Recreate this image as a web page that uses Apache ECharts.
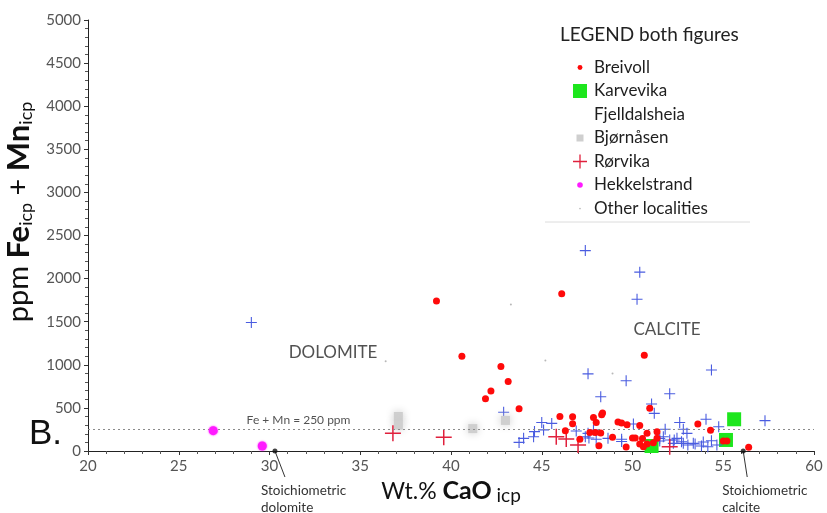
<!DOCTYPE html>
<html><head><meta charset="utf-8">
<script src="https://cdn.jsdelivr.net/npm/echarts@6/dist/echarts.min.js"></script>
<style>html,body{margin:0;padding:0;background:#fff}#c{width:827px;height:513px}</style>
</head><body><div id="c"></div>
<script>
// ---- data (Wt.% CaO, ppm Fe+Mn) ----
const breivoll = [[39.2,1740],[46.1,1825],[40.6,1100],[50.65,1110],[42.75,980],[43.15,805],[42.2,695],[41.9,605],[43.75,490],[50.95,495],[46.0,400],[46.7,398],[46.7,315],[46.3,235],[47.85,390],[48.3,420],[48.35,440],[48.0,330],[49.2,335],[49.4,325],[49.7,305],[50.4,295],[48.9,160],[50.0,150],[50.15,150],[47.65,215],[47.95,215],[48.25,210],[47.1,135],[48.15,60],[49.65,45],[50.55,145],[50.8,205],[51.35,224],[51.35,147],[50.4,80],[50.8,80],[51.15,96],[50.6,50],[53.6,313],[54.3,240],[55.0,116],[55.2,116],[56.4,43]];
const karvevika = [[55.6,368],[55.15,128],[51.05,58]];
const fjelldalsheia = [[29.0,1490],[47.4,2325],[50.4,2075],[50.25,1760],[47.55,895],[49.65,815],[54.35,940],[48.25,630],[52.05,665],[51.05,545],[51.2,437],[42.9,450],[45.0,330],[45.55,320],[44.6,225],[45.1,245],[43.75,100],[44.0,147],[44.55,166],[54.05,368],[57.3,352],[52.6,330],[54.75,282],[47.55,205],[47.85,244],[46.9,232],[48.65,147],[49.4,136],[50.05,313],[51.8,252],[52.8,252],[51.5,147],[52.05,128],[52.45,147],[52.25,89],[52.8,89],[53.35,89],[53.9,104],[54.35,119],[53.0,205],[47.4,166],[47.6,150],[48.0,136],[49.4,110],[51.7,166],[51.5,116],[52.3,128],[52.7,108],[53.05,70],[53.45,81],[53.8,58],[54.15,50],[54.65,70]];
const bjornasen = [[37.1,400],[37.1,300],[41.2,260],[43.0,355]];
const rorvika = [[36.8,205],[39.6,160],[45.8,166],[46.35,139],[47.0,70],[52.05,50]];
const hekkelstrand = [[26.9,236],[29.6,58]];
const otherLocalities = [[43.3,1700],[48.9,900],[36.4,1040],[45.2,1050]];
const thresholdPpm = 250;
const stoichDolomite = 30.3;
const stoichCalcite = 56.1;
const fieldLabels = [
  {name:'Fe + Mn = 250 ppm', value:[31.6,250], pos:'top', size:12},
  {name:'DOLOMITE', value:[33.5,1143], pos:'inside', size:17},
  {name:'CALCITE', value:[51.9,1404], pos:'inside', size:17}
];
const legendNames = ['Breivoll','Karvevika','Fjelldalsheia','Bjørnåsen','Rørvika','Hekkelstrand','Other localities'];

const FONT = 'Lato, "Open Sans", sans-serif';
const CROSS = 'path://M0,10L20,10M10,0L10,20';
const chart = echarts.init(document.getElementById('c'));

const option = {
  animation:false,
  backgroundColor:'#fff',
  textStyle:{fontFamily:FONT},
  title:{text:'LEGEND both figures', left:555, top:20, textStyle:{fontFamily:FONT,fontSize:19,fontWeight:'normal',color:'#222'}},
  legend:{
    orient:'vertical', left:566, top:54, itemWidth:18, itemHeight:14, itemGap:6.5,
    selectedMode:false,
    textStyle:{fontFamily:FONT,fontSize:17,color:'#1e1e1e',lineHeight:14},
    data:[
      {name:'Breivoll', icon:'path://M0,0M20,20M6.5,10a3.5,3.5 0 1,0 7,0a3.5,3.5 0 1,0 -7,0'},
      {name:'Karvevika', icon:'path://M0,0L20,0L20,20L0,20Z'},
      {name:'Fjelldalsheia', icon:'none'},
      {name:'Bjørnåsen', icon:'path://M0,0M20,20M5,5L15,5L15,15L5,15Z'},
      {name:'Rørvika', icon:'path://M0,10L20,10M10,0L10,20', itemStyle:{color:'rgba(0,0,0,0)',borderColor:'#e0203c',borderWidth:1.3}},
      {name:'Hekkelstrand', icon:'path://M0,0M20,20M6,10a4,4 0 1,0 8,0a4,4 0 1,0 -8,0'},
      {name:'Other localities', icon:'path://M0,0M20,20M8.8,10a1.2,1.2 0 1,0 2.4,0a1.2,1.2 0 1,0 -2.4,0'}
    ]
  },
  grid:{left:88, right:13, top:20, bottom:62},
  xAxis:{
    type:'value', min:20, max:60, interval:5,
    axisLine:{show:true, onZero:false, lineStyle:{color:'#222',width:1}},
    axisTick:{show:true, inside:false, length:4, lineStyle:{color:'#333'}},
    minorTick:{show:true, splitNumber:5, length:3, lineStyle:{color:'#555'}},
    splitLine:{show:false},
    axisLabel:{fontFamily:FONT, fontSize:15, color:'#555', margin:8},
    name:'{a|Wt.% }{b|CaO}{s| icp}', nameLocation:'middle', nameGap:17,
    nameTextStyle:{rich:{
      a:{fontFamily:FONT,fontSize:23,color:'#111',lineHeight:28},
      b:{fontFamily:FONT,fontSize:25,fontWeight:'bold',color:'#111',lineHeight:28},
      s:{fontFamily:FONT,fontSize:19,color:'#111',lineHeight:19,verticalAlign:'bottom'}
    }}
  },
  yAxis:{
    type:'value', min:0, max:5000, interval:500,
    axisLine:{show:true, lineStyle:{color:'#222',width:1}},
    axisTick:{show:true, length:4, lineStyle:{color:'#333'}},
    minorTick:{show:true, splitNumber:5, length:3, lineStyle:{color:'#555'}},
    splitLine:{show:false},
    axisLabel:{fontFamily:FONT, fontSize:15, color:'#555', margin:7, formatter:v=>String(v)}
  },
  series:[
    {name:'Karvevika', type:'scatter', data:karvevika, symbol:'rect', symbolSize:14, itemStyle:{color:'#1de61d',opacity:1}, z:2},
    {name:'Fjelldalsheia', type:'scatter', data:fjelldalsheia, symbol:CROSS, symbolSize:11, itemStyle:{color:'rgba(0,0,0,0)',borderColor:'#4a5ce0',borderWidth:1.1,opacity:1}, z:3},
    {name:'Bjørnåsen', type:'scatter', data:bjornasen, symbol:'rect', symbolSize:9, itemStyle:{color:'#cfcfcf',shadowBlur:9,shadowColor:'#c8c8c8',opacity:1}, z:3},
    {name:'Rørvika', type:'scatter', data:rorvika, symbol:CROSS, symbolSize:16, itemStyle:{color:'rgba(0,0,0,0)',borderColor:'#e0203c',borderWidth:1.5,opacity:1}, z:4},
    {name:'Breivoll', type:'scatter', data:breivoll, symbol:'circle', symbolSize:7, itemStyle:{color:'#ff0a0a',opacity:1}, z:5},
    {name:'Hekkelstrand', type:'scatter', data:hekkelstrand, symbol:'circle', symbolSize:9, itemStyle:{color:'#ff1aff',shadowBlur:2,shadowColor:'#ff1aff',opacity:1}, z:5},
    {name:'Other localities', type:'scatter', data:otherLocalities, symbol:'circle', symbolSize:2, itemStyle:{color:'#b8b8b8',opacity:1}, z:2},
    {name:'ref', type:'scatter', data:[[stoichDolomite,0],[stoichCalcite,0]], symbol:'circle', symbolSize:5, clip:false,
      itemStyle:{color:'#111'}, z:6,
      markLine:{silent:true, symbol:'none', label:{show:false},
        lineStyle:{color:'#8a8a8a', type:[2,3], width:1},
        data:[{yAxis:thresholdPpm}]}
    },
    {name:'labels', type:'scatter', symbolSize:0, silent:true, z:7,
      data:fieldLabels.map(d=>({name:d.name, value:d.value, label:{show:true, position:d.pos, distance:3, formatter:'{b}', fontFamily:FONT, fontSize:d.size, color:'#262626'}}))
    }
  ]
};
chart.setOption(option);

const pD = chart.convertToPixel({gridIndex:0},[stoichDolomite,0]);
const pC = chart.convertToPixel({gridIndex:0},[stoichCalcite,0]);
const annStyle = {fontFamily:FONT, fontSize:13.5, fill:'#333', lineHeight:17, align:'left', verticalAlign:'top'};
chart.setOption({graphic:[
  {type:'line', shape:{x1:pD[0],y1:pD[1],x2:pD[0]+10,y2:pD[1]+26}, style:{stroke:'#333',lineWidth:1}, silent:true},
  {type:'text', x:pD[0]-14, y:pD[1]+31, style:Object.assign({text:'Stoichiometric\ndolomite'},annStyle), silent:true},
  {type:'line', shape:{x1:pC[0],y1:pC[1],x2:pC[0]+4,y2:pC[1]+26}, style:{stroke:'#333',lineWidth:1}, silent:true},
  {type:'text', x:pC[0]-21, y:pC[1]+31, style:Object.assign({text:'Stoichiometric\ncalcite'},annStyle), silent:true},
  {type:'text', x:29, y:417, style:{text:'B.', fontFamily:'"Liberation Sans", Arial, sans-serif', fontSize:35, fill:'#111'}, silent:true},
  {type:'line', shape:{x1:545,y1:222,x2:750,y2:222}, style:{stroke:'#dcdcdc',lineWidth:1}, silent:true},
  {type:'text', x:19, y:212, rotation:Math.PI/2, silent:true,
    style:{text:'{a|ppm }{b|Fe}{s|icp}{a| + }{b|Mn}{s|icp}', align:'center', verticalAlign:'middle',
      rich:{
        a:{fontFamily:FONT,fontSize:29,fill:'#111',lineHeight:32},
        b:{fontFamily:FONT,fontSize:31,fontWeight:'bold',fill:'#111',lineHeight:32},
        s:{fontFamily:FONT,fontSize:18,fill:'#111',lineHeight:18,verticalAlign:'bottom'}
      }}}
]});
</script>
</body></html>
